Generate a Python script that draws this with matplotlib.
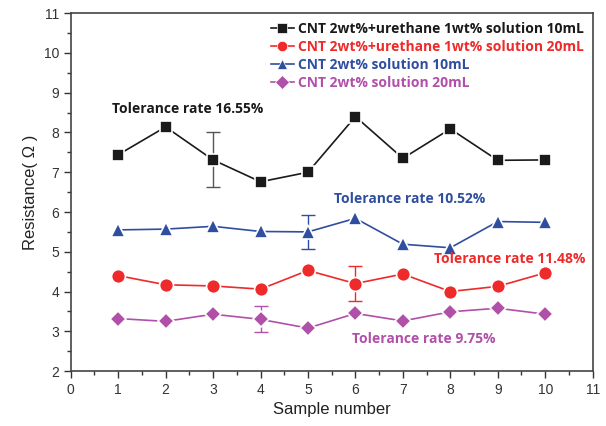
import matplotlib
matplotlib.use("Agg")
import matplotlib.pyplot as plt
from matplotlib.ticker import MultipleLocator

samples = [1, 2, 3, 4, 5, 6, 7, 8, 9, 10]
black_vals = [7.44, 8.14, 7.31, 6.76, 7.00, 8.40, 7.35, 8.09, 7.30, 7.31]
red_vals = [4.40, 4.17, 4.14, 4.06, 4.53, 4.20, 4.44, 4.00, 4.13, 4.47]
blue_vals = [5.55, 5.57, 5.64, 5.51, 5.50, 5.84, 5.19, 5.10, 5.76, 5.74]
purple_vals = [3.32, 3.25, 3.43, 3.30, 3.08, 3.45, 3.26, 3.49, 3.58, 3.43]

labels = ["CNT 2wt%+urethane 1wt% solution 10mL",
          "CNT 2wt%+urethane 1wt% solution 20mL",
          "CNT 2wt% solution 10mL",
          "CNT 2wt% solution 20mL"]
tolerance_texts = ["Tolerance rate 16.55%", "Tolerance rate 11.48%",
                   "Tolerance rate 10.52%", "Tolerance rate 9.75%"]
# error bars: (sample, half-width)
black_err = (3, 0.69)
red_err = (6, 0.45)
blue_err = (5, 0.42)
purple_err = (4, 0.33)

c_black = "#1a1a1a"
c_red = "#ee2a2a"
c_blue = "#2f4ea0"
c_purple = "#b050a8"

plt.rcParams['font.family'] = ['Liberation Sans', 'DejaVu Sans']

fig = plt.figure(figsize=(6.06, 4.26), dpi=100)
ax = fig.add_axes([0.1167, 0.129, 0.978 - 0.1167, 0.969 - 0.129])

series = [
    (black_vals, c_black, "s", 9, black_err, "#555555"),
    (red_vals, c_red, "o", 10, red_err, c_red),
    (blue_vals, c_blue, "^", 10.5, blue_err, c_blue),
    (purple_vals, c_purple, "D", 8.5, purple_err, c_purple),
]
handles = []
for (vals, col, mk, ms, err, ecol), lab in zip(series, labels):
    xi, e = err
    idx = samples.index(xi)
    ax.errorbar([xi], [vals[idx]], yerr=[e], fmt="none", ecolor=ecol,
                elinewidth=1.0, capsize=5, capthick=1.0, zorder=2)
    h, = ax.plot(samples, vals, color=col, lw=1.2, marker=mk, ms=ms,
                 markerfacecolor=col, markeredgecolor="white",
                 markeredgewidth=1.2, label=lab, zorder=3)
    handles.append(h)

ax.set_xlim(0, 11)
ax.set_ylim(2, 11)
ax.xaxis.set_major_locator(MultipleLocator(1))
ax.xaxis.set_minor_locator(MultipleLocator(0.5))
ax.yaxis.set_major_locator(MultipleLocator(1))
ax.yaxis.set_minor_locator(MultipleLocator(0.5))
ax.tick_params(which="both", direction="out", top=False, right=False,
               labelsize=10, colors="#333333")
ax.tick_params(which="major", length=5, width=1)
ax.tick_params(which="minor", length=3, width=1)
for s in ax.spines.values():
    s.set_color("#444444")
    s.set_linewidth(1.2)

ax.set_xlabel("Sample number", fontsize=12, color="#222222")
ax.set_ylabel("Resistance( Ω )", fontsize=12, color="#222222")

bold_font = ['Open Sans', 'DejaVu Sans']
leg = ax.legend(handles=handles, loc="upper right", frameon=False,
                prop={'family': bold_font, 'weight': 'bold', 'size': 10},
                handlelength=1.6, handletextpad=0.3, labelspacing=0.28,
                borderaxespad=0.25)
for t, col in zip(leg.get_texts(), [c_black, c_red, c_blue, c_purple]):
    t.set_color(col)
for h in leg.legend_handles:
    h.set_markersize(7.5)
    h.set_markeredgewidth(0.5)

ax.text(0.88, 8.58, tolerance_texts[0], color=c_black, fontsize=10,
        fontweight="bold", family=bold_font, va="center", ha="left")
ax.text(7.66, 4.81, tolerance_texts[1], color=c_red, fontsize=10,
        fontweight="bold", family=bold_font, va="center", ha="left")
ax.text(5.54, 6.33, tolerance_texts[2], color=c_blue, fontsize=10,
        fontweight="bold", family=bold_font, va="center", ha="left")
ax.text(5.93, 2.81, tolerance_texts[3], color=c_purple, fontsize=10,
        fontweight="bold", family=bold_font, va="center", ha="left")

fig.savefig("out.png", dpi=100)
